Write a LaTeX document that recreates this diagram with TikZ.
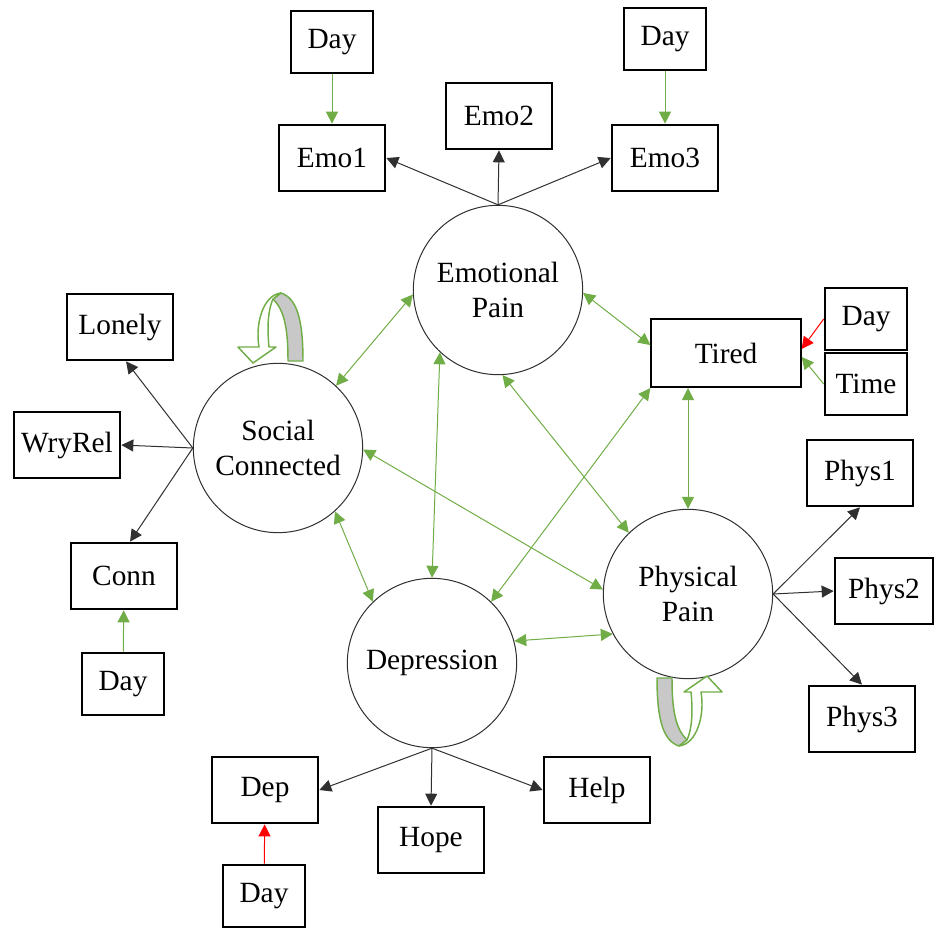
\documentclass[tikz,border=0pt]{standalone}
\usepackage{fontspec}
\setmainfont{Liberation Serif}
\usepackage{tikz}
\usetikzlibrary{arrows.meta,positioning}
\definecolor{PathGreen}{HTML}{70AD47}
\definecolor{LoopGray}{HTML}{C8C8C8}
\definecolor{LineGray}{HTML}{303030}

\begin{document}
\begin{tikzpicture}[x=0.75pt, y=-0.75pt,
    font=\fontsize{22}{26}\selectfont,
    obs/.style={draw=black, line width=1.5pt, fill=white, minimum width=80pt, minimum height=50pt, inner sep=2pt},
    daybox/.style={obs, minimum width=62pt, minimum height=47pt},
    latent/.style={circle, draw=LineGray, line width=0.75pt, minimum size=127pt, align=center, inner sep=0pt},
    load/.style={-{Triangle[length=9pt,width=9pt]}, draw=LineGray, line width=0.75pt},
    cov/.style={{Triangle[length=9pt,width=9pt]}-{Triangle[length=9pt,width=9pt]}, draw=PathGreen, line width=0.75pt},
    upeff/.style={-{Triangle[length=9pt,width=9pt]}, draw=PathGreen, line width=0.75pt},
    downeff/.style={-{Triangle[length=9pt,width=9pt]}, draw=red, line width=0.75pt},
    selfloop/.pic={
      \draw[PathGreen, line width=1.1pt, fill=LoopGray, line join=round] (-7,-63) -- (1,-69) .. controls (16,-64) and (23,-45) .. (23,-1) -- (8,-1) .. controls (8,-35) and (4,-52) .. (-7,-63) -- cycle;
      \draw[PathGreen, line width=1.1pt, fill=white, line join=round] (1,-69) .. controls (-17,-67) and (-25,-38) .. (-21,-15) -- (-42,-15) -- (-27,1) -- (-4,-15) -- (-11,-15) .. controls (-13,-35) and (-12,-52) .. (-7,-63) -- cycle;
    }
  ]
    \useasboundingbox (0,0) rectangle (935,928);

    \node[latent] (ep) at (498, 290) {Emotional\\Pain};
    \node[latent] (sc) at (278, 448) {Social\\Connected};
    \node[latent] (de) at (432, 663) {Depression};
    \node[latent] (pp) at (688, 594) {Physical\\Pain};

    \node[daybox] (dayemo1) at (332, 42) {Day};
    \node[obs] (emo1) at (332, 158) {Emo1};
    \node[obs] (emo2) at (499, 116) {Emo2};
    \node[daybox] (dayemo3) at (665, 39) {Day};
    \node[obs] (emo3) at (665, 158) {Emo3};

    \node[obs] (lonely) at (120, 327) {Lonely};
    \node[obs] (wryrel) at (67, 445) {WryRel};
    \node[obs] (conn) at (124, 576) {Conn};
    \node[daybox] (dayconn) at (123, 684) {Day};

    \node[obs, minimum width=112pt, minimum height=51pt] (tired) at (726, 353) {Tired};
    \node[daybox] (daytired) at (866, 319) {Day};
    \node[daybox] (time) at (866, 384) {Time};

    \node[obs] (phys1) at (860, 473) {Phys1};
    \node[obs, minimum width=74pt] (phys2) at (884, 591) {Phys2};
    \node[obs] (phys3) at (862, 719) {Phys3};

    \node[obs] (dep) at (265, 790) {Dep};
    \node[obs] (hope) at (431, 840) {Hope};
    \node[obs] (help) at (597, 790) {Help};
    \node[daybox] (daydep) at (264, 896) {Day};

    \draw[load] (ep.north) -- (emo1.east);
    \draw[load] (ep.north) -- (emo2.south);
    \draw[load] (ep.north) -- (emo3.west);
    \draw[load] (sc.west) -- (lonely.-80);
    \draw[load] (sc.west) -- (wryrel.east);
    \draw[load] (sc.west) -- (conn.80);
    \draw[load] (de.south) -- (dep.east);
    \draw[load] (de.south) -- (hope.north);
    \draw[load] (de.south) -- (help.west);
    \draw[load] (pp.east) -- (phys1.south);
    \draw[load] (pp.east) -- (phys2.west);
    \draw[load] (pp.east) -- (phys3.north);

    \draw[upeff] (dayemo1) -- (emo1);
    \draw[upeff] (dayemo3) -- (emo3);
    \draw[upeff] (dayconn) -- (conn);
    \draw[downeff] (daydep) -- (dep);
    \draw[downeff] (daytired.west) -- (tired.3);
    \draw[upeff] (time.west) -- (tired.357);

    \draw[cov] (ep.183) -- (sc.47);
    \draw[cov] (ep.358) -- (tired.174);
    \draw[cov] (ep.227) -- (de.north);
    \draw[cov] (ep.273) -- (pp.134);
    \draw[cov] (sc.359) -- (pp.177);
    \draw[cov] (sc.312) -- (de.134);
    \draw[cov] (tired.south west) -- (de.46);
    \draw[cov] (pp.north |- tired.south) -- (pp.north);
    \draw[cov] (de.15) -- (pp.208);

    \pic at (280, 362) {selfloop};
    \pic[rotate=180] at (680, 677) {selfloop};
  \end{tikzpicture}
\end{document}
